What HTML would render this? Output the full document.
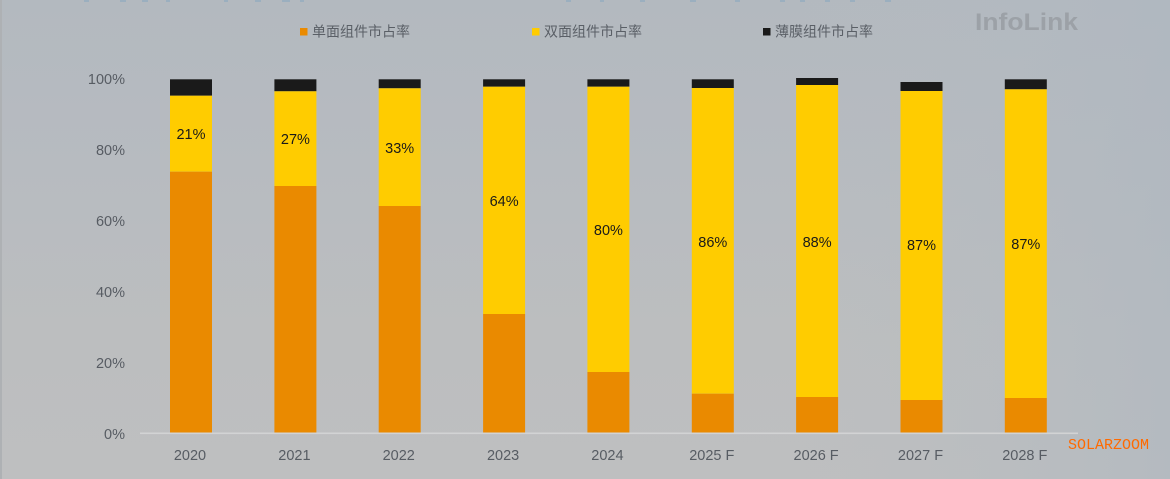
<!DOCTYPE html>
<html>
<head>
<meta charset="utf-8">
<style>
  html, body { margin: 0; padding: 0; }
  body { width: 1170px; height: 479px; overflow: hidden; position: relative;
         background: linear-gradient(180deg, #b3b9bf 0%, #b7bbc0 35%, #bcbebf 70%, #bebfc0 100%); }
  svg { position: absolute; left: 0; top: 0; }
  .tick { font-family: "Liberation Sans", "Noto Sans CJK SC", sans-serif; font-size: 14.5px; fill: #575c63; }
  .lbl { font-family: "Liberation Sans", sans-serif; font-size: 14.5px; fill: #1a1a1a; }
  .leg { font-family: "Liberation Sans", "Noto Sans CJK SC", sans-serif; font-size: 14px; fill: #5a5f66; }
</style>
</head>
<body>
<svg width="1170" height="479" viewBox="0 0 1170 479" xmlns="http://www.w3.org/2000/svg">
  <defs>
    <linearGradient id="rt" x1="0" y1="0" x2="1" y2="0">
      <stop offset="0" stop-color="#b6bcc1" stop-opacity="0"/>
      <stop offset="1" stop-color="#aeb7c0" stop-opacity="0.6"/>
    </linearGradient>
  </defs>
  <rect x="800" y="0" width="370" height="479" fill="url(#rt)"/>
  <rect x="0" y="0" width="2" height="479" fill="#aeb1b4"/>

  <!-- cut-off title remnants -->
  <g fill="#7fa3bf" opacity="0.45">
    <rect x="84" y="0" width="5" height="2"/><rect x="120" y="0" width="6" height="2"/>
    <rect x="142" y="0" width="6" height="2"/><rect x="166" y="0" width="4" height="2"/>
    <rect x="224" y="0" width="4" height="2"/><rect x="255" y="0" width="6" height="2"/>
    <rect x="282" y="0" width="8" height="2"/><rect x="300" y="0" width="4" height="2"/>
    <rect x="566" y="0" width="5" height="2"/><rect x="600" y="0" width="4" height="2"/>
    <rect x="640" y="0" width="5" height="2"/><rect x="690" y="0" width="6" height="2"/>
    <rect x="735" y="0" width="5" height="2"/><rect x="780" y="0" width="5" height="2"/>
    <rect x="800" y="0" width="5" height="2"/><rect x="825" y="0" width="5" height="2"/>
    <rect x="850" y="0" width="5" height="2"/><rect x="885" y="0" width="6" height="2"/>
  </g>

  <!-- legend -->
  <rect x="300" y="28" width="7.5" height="7.5" fill="#ea8a00"/>
  <text class="leg" x="312" y="36.5">单面组件市占率</text>
  <rect x="532" y="28" width="7.5" height="7.5" fill="#ffcc00"/>
  <text class="leg" x="544" y="36.5">双面组件市占率</text>
  <rect x="763" y="28" width="7.5" height="7.5" fill="#1a1a1a"/>
  <text class="leg" x="775" y="36.5">薄膜组件市占率</text>

  <!-- watermark -->
  <text x="975" y="30" font-family="'Liberation Sans', sans-serif" font-weight="bold" font-size="24" fill="#9ca1a7" textLength="103" lengthAdjust="spacingAndGlyphs">InfoLink</text>

  <!-- y-axis tick labels -->
  <g class="tick" text-anchor="end">
    <text x="125" y="84">100%</text>
    <text x="125" y="155">80%</text>
    <text x="125" y="226">60%</text>
    <text x="125" y="297">40%</text>
    <text x="125" y="368">20%</text>
    <text x="125" y="439">0%</text>
  </g>

  <!-- bars -->
  <g>
    <rect x="170" y="79.3" width="42" height="16.4" fill="#1a1a1a"/>
    <rect x="170" y="95.7" width="42" height="76" fill="#ffcc00"/>
    <rect x="170" y="171.7" width="42" height="261.3" fill="#ea8a00"/>

    <rect x="274.4" y="79.3" width="42" height="12" fill="#1a1a1a"/>
    <rect x="274.4" y="91.3" width="42" height="94.7" fill="#ffcc00"/>
    <rect x="274.4" y="186" width="42" height="247" fill="#ea8a00"/>

    <rect x="378.7" y="79.3" width="42" height="9" fill="#1a1a1a"/>
    <rect x="378.7" y="88.3" width="42" height="117.7" fill="#ffcc00"/>
    <rect x="378.7" y="206" width="42" height="227" fill="#ea8a00"/>

    <rect x="483.1" y="79.3" width="42" height="7.4" fill="#1a1a1a"/>
    <rect x="483.1" y="86.7" width="42" height="227.3" fill="#ffcc00"/>
    <rect x="483.1" y="314" width="42" height="119" fill="#ea8a00"/>

    <rect x="587.4" y="79.3" width="42" height="7.4" fill="#1a1a1a"/>
    <rect x="587.4" y="86.7" width="42" height="285.3" fill="#ffcc00"/>
    <rect x="587.4" y="372" width="42" height="61" fill="#ea8a00"/>

    <rect x="691.8" y="79.3" width="42" height="8.7" fill="#1a1a1a"/>
    <rect x="691.8" y="88" width="42" height="305.7" fill="#ffcc00"/>
    <rect x="691.8" y="393.7" width="42" height="39.3" fill="#ea8a00"/>

    <rect x="796.1" y="78" width="42" height="7" fill="#1a1a1a"/>
    <rect x="796.1" y="85" width="42" height="312" fill="#ffcc00"/>
    <rect x="796.1" y="397" width="42" height="36" fill="#ea8a00"/>

    <rect x="900.5" y="82" width="42" height="9" fill="#1a1a1a"/>
    <rect x="900.5" y="91" width="42" height="309" fill="#ffcc00"/>
    <rect x="900.5" y="400" width="42" height="33" fill="#ea8a00"/>

    <rect x="1004.8" y="79.3" width="42" height="10" fill="#1a1a1a"/>
    <rect x="1004.8" y="89.3" width="42" height="308.7" fill="#ffcc00"/>
    <rect x="1004.8" y="398" width="42" height="35" fill="#ea8a00"/>
  </g>

  <!-- axis line -->
  <rect x="140" y="432.5" width="938" height="1.6" fill="#d2d3d4"/>

  <!-- data labels -->
  <g class="lbl" text-anchor="middle">
    <text x="191" y="139">21%</text>
    <text x="295.4" y="144">27%</text>
    <text x="399.7" y="153">33%</text>
    <text x="504.1" y="206">64%</text>
    <text x="608.4" y="235">80%</text>
    <text x="712.8" y="247">86%</text>
    <text x="817.1" y="247">88%</text>
    <text x="921.5" y="250">87%</text>
    <text x="1025.8" y="249">87%</text>
  </g>

  <!-- x-axis labels -->
  <g class="tick" text-anchor="middle">
    <text x="190" y="460">2020</text>
    <text x="294.4" y="460">2021</text>
    <text x="398.7" y="460">2022</text>
    <text x="503.1" y="460">2023</text>
    <text x="607.4" y="460">2024</text>
    <text x="711.8" y="460">2025 F</text>
    <text x="816.1" y="460">2026 F</text>
    <text x="920.5" y="460">2027 F</text>
    <text x="1024.8" y="460">2028 F</text>
  </g>

  <!-- SOLARZOOM watermark -->
  <text x="1068" y="449" font-family="'Liberation Mono', monospace" font-size="14.5" fill="#ff6a00" textLength="81" lengthAdjust="spacingAndGlyphs">SOLARZOOM</text>
</svg>
</body>
</html>
